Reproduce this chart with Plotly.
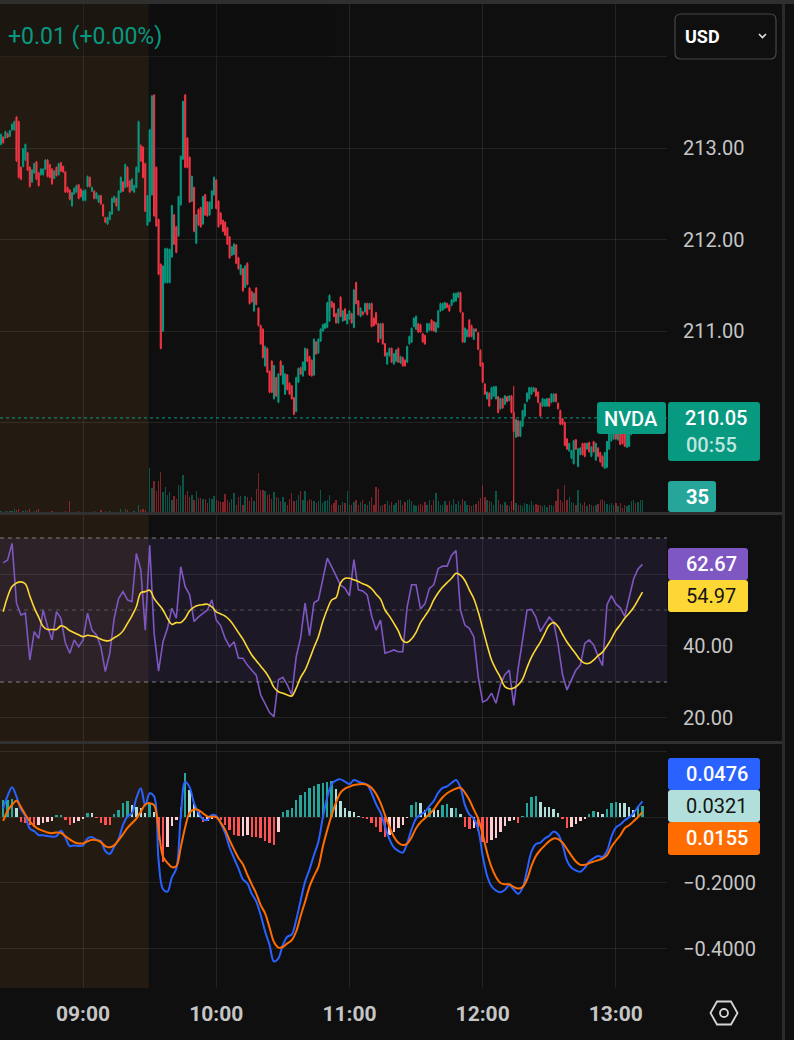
import pandas as pd
import plotly.graph_objects as go

DAY = "2025-10-20"
W, H = 794, 1040

BG = "#0f0f0f"
GRID = "rgba(255,255,255,0.085)"
UP = "#089981"
DOWN = "#f23645"
TICK = "#c6c6c6"

# 1-minute NVDA candles, 08:23 -> 13:12
open_ = [
    213.04, 213.12, 213.11, 213.16, 213.13, 213.20, 213.20, 213.34, 213.29, 212.79,
    212.80, 212.87, 212.95, 212.79, 212.63, 212.73, 212.85, 212.73, 212.71, 212.71,
    212.77, 212.87, 212.82, 212.77, 212.67, 212.79, 212.71, 212.84, 212.80, 212.74,
    212.57, 212.54, 212.37, 212.50, 212.52, 212.60, 212.55, 212.43, 212.43, 212.58,
    212.68, 212.53, 212.53, 212.45, 212.41, 212.48, 212.38, 212.24, 212.17, 212.22,
    212.28, 212.41, 212.45, 212.32, 212.52, 212.63, 212.57, 212.79, 212.64, 212.54,
    212.52, 212.57, 212.74, 213.03, 213.01, 212.83, 212.16, 212.20, 212.49, 213.58,
    212.79, 212.22, 211.73, 211.00, 211.53, 211.53, 211.53, 211.81, 212.27, 212.14,
    212.04, 212.38, 212.88, 213.58, 213.11, 212.90, 212.42, 212.57, 211.96, 212.33,
    212.35, 212.17, 212.49, 212.41, 212.27, 212.34, 212.49, 212.65, 212.42,
    212.29, 212.21, 212.19, 212.13, 212.03, 211.83, 211.84, 211.94, 211.80, 211.62,
    211.68, 211.48, 211.74, 211.47, 211.43, 211.22, 211.47, 211.25, 211.06, 211.02,
    210.62, 210.81, 210.56, 210.67, 210.26, 210.49, 210.22, 210.67, 210.42, 210.31,
    210.52, 210.43, 210.40, 210.27, 210.12, 210.44, 210.60, 210.51, 210.57, 210.80,
    210.72, 210.68, 210.52, 210.88, 210.76, 210.89, 211.00, 211.03, 211.04, 211.11,
    211.32, 211.30, 211.19, 211.09, 211.37, 211.11, 211.24, 211.08, 211.13, 211.19,
    211.04, 211.53, 211.33, 211.16, 211.21, 211.21, 211.30, 211.24, 211.30, 211.14,
    211.20, 211.08, 210.92, 211.08, 210.86, 210.64, 210.73, 210.81, 210.64, 210.67,
    210.81, 210.65, 210.71, 210.68, 210.66, 210.86, 210.88, 211.05, 211.02, 211.08,
    211.07, 210.97, 210.95, 210.99, 211.01, 211.12, 211.10, 210.99, 211.04, 211.22,
    211.23, 211.25, 211.30, 211.28, 211.28, 211.32, 211.33, 211.37, 211.42, 211.20,
    210.88, 210.94, 211.12, 211.06, 210.91, 211.02, 210.98, 210.79, 210.65, 210.42,
    210.26, 210.32, 210.26, 210.29, 210.26, 210.28, 210.15, 210.26, 210.20, 210.28,
    210.24, 210.29, 210.11, 209.84, 210.02, 209.85, 209.96, 210.07, 210.23, 210.26,
    210.31, 210.34, 210.37, 210.33, 210.21, 210.18, 210.18, 210.18, 210.26, 210.22,
    210.23, 210.31, 210.21, 210.13, 210.04, 210.00, 209.82, 209.69, 209.61, 209.55,
    209.81, 209.52, 209.65, 209.77, 209.77, 209.71, 209.78, 209.63, 209.79, 209.59,
    209.72, 209.67, 209.63, 209.50, 209.51, 209.71, 209.80, 209.82, 209.93, 209.81,
    209.91, 209.89, 209.89, 209.73, 209.74, 209.87, 209.91, 210.01, 209.95, 209.98,
    209.99,
]
high = [
    213.16, 213.13, 213.19, 213.17, 213.20, 213.27, 213.30, 213.35, 213.30, 212.80,
    213.00, 213.05, 212.96, 212.80, 212.77, 212.84, 212.86, 212.74, 212.78, 212.78,
    212.88, 212.88, 212.83, 212.78, 212.76, 212.80, 212.84, 212.85, 212.81, 212.75,
    212.58, 212.55, 212.52, 212.57, 212.60, 212.61, 212.56, 212.54, 212.55, 212.70,
    212.69, 212.58, 212.54, 212.52, 212.49, 212.49, 212.39, 212.25, 212.25, 212.31,
    212.46, 212.48, 212.46, 212.54, 212.69, 212.64, 212.83, 212.80, 212.65, 212.67,
    212.60, 212.80, 213.30, 213.04, 213.02, 212.84, 212.49, 213.21, 213.58, 213.59,
    212.80, 212.23, 211.74, 211.72, 211.91, 211.91, 211.90, 212.38, 212.28, 212.15,
    212.48, 212.92, 213.52, 213.59, 213.12, 212.91, 212.70, 212.58, 212.28, 212.34,
    212.36, 212.48, 212.50, 212.42, 212.42, 212.54, 212.69, 212.66, 212.43,
    212.30, 212.22, 212.20, 212.14, 212.04, 211.93, 211.96, 211.95, 211.81, 211.73,
    211.69, 211.72, 211.75, 211.48, 211.44, 211.42, 211.48, 211.26, 211.07, 211.03,
    210.84, 210.82, 210.57, 210.68, 210.63, 210.50, 210.54, 210.68, 210.63, 210.54,
    210.53, 210.44, 210.41, 210.28, 210.50, 210.60, 210.61, 210.67, 210.82, 210.81,
    210.73, 210.69, 210.92, 210.89, 210.92, 211.03, 211.08, 211.09, 211.32, 211.40,
    211.33, 211.31, 211.20, 211.25, 211.38, 211.23, 211.25, 211.19, 211.23, 211.20,
    211.46, 211.54, 211.34, 211.26, 211.22, 211.31, 211.31, 211.31, 211.31, 211.15,
    211.21, 211.09, 211.09, 211.09, 210.87, 210.77, 210.82, 210.82, 210.76, 210.80,
    210.82, 210.73, 210.72, 210.69, 210.84, 210.95, 211.04, 211.15, 211.17, 211.09,
    211.08, 210.98, 210.96, 211.09, 211.09, 211.13, 211.11, 211.10, 211.23, 211.31,
    211.31, 211.32, 211.31, 211.29, 211.35, 211.42, 211.42, 211.43, 211.43, 211.21,
    211.04, 211.02, 211.13, 211.07, 211.03, 211.03, 210.99, 210.80, 210.66, 210.43,
    210.34, 210.33, 210.39, 210.40, 210.40, 210.29, 210.27, 210.27, 210.30, 210.29,
    210.30, 210.30, 210.40, 210.04, 210.03, 210.02, 210.14, 210.21, 210.33, 210.39,
    210.39, 210.39, 210.38, 210.34, 210.22, 210.27, 210.26, 210.27, 210.27, 210.32,
    210.32, 210.32, 210.22, 210.14, 210.05, 210.01, 209.83, 209.78, 209.70, 209.81,
    209.82, 209.72, 209.73, 209.78, 209.78, 209.78, 209.79, 209.74, 209.80, 209.78,
    209.73, 209.68, 209.64, 209.68, 209.80, 209.92, 209.94, 209.96, 209.94, 209.96,
    209.92, 209.90, 209.90, 209.92, 209.97, 210.01, 210.03, 210.02, 210.05, 210.07,
    210.07,
]
low = [
    213.03, 213.05, 213.10, 213.11, 213.12, 213.19, 213.19, 212.85, 212.67, 212.65,
    212.79, 212.86, 212.75, 212.57, 212.62, 212.72, 212.65, 212.58, 212.70, 212.70,
    212.76, 212.68, 212.67, 212.60, 212.66, 212.69, 212.70, 212.74, 212.73, 212.51,
    212.51, 212.43, 212.36, 212.49, 212.51, 212.44, 212.46, 212.42, 212.42, 212.57,
    212.57, 212.52, 212.44, 212.44, 212.40, 212.38, 212.25, 212.18, 212.16, 212.21,
    212.27, 212.40, 212.36, 212.31, 212.51, 212.52, 212.56, 212.57, 212.51, 212.53,
    212.51, 212.56, 212.73, 212.85, 212.67, 212.30, 212.15, 212.19, 212.48, 212.25,
    212.14, 211.61, 210.80, 210.99, 211.52, 211.52, 211.52, 211.80, 211.94, 211.85,
    212.03, 212.37, 212.87, 212.78, 212.78, 212.40, 212.41, 212.08, 211.95, 212.15,
    212.13, 212.16, 212.26, 212.25, 212.26, 212.33, 212.48, 212.33, 212.13,
    212.16, 212.08, 212.04, 211.94, 211.79, 211.82, 211.83, 211.73, 211.67, 211.61,
    211.43, 211.47, 211.50, 211.29, 211.31, 211.21, 211.28, 211.05, 210.85, 210.70,
    210.61, 210.54, 210.32, 210.32, 210.25, 210.28, 210.21, 210.51, 210.41, 210.30,
    210.35, 210.30, 210.25, 210.08, 210.11, 210.43, 210.52, 210.50, 210.56, 210.66,
    210.51, 210.50, 210.51, 210.74, 210.75, 210.88, 210.99, 211.02, 211.03, 211.10,
    211.25, 211.15, 211.08, 211.08, 211.15, 211.10, 211.11, 211.07, 211.12, 211.08,
    211.03, 211.29, 211.17, 211.15, 211.17, 211.20, 211.17, 211.23, 211.04, 211.05,
    211.07, 210.87, 210.91, 210.85, 210.72, 210.63, 210.72, 210.65, 210.63, 210.66,
    210.65, 210.64, 210.61, 210.61, 210.65, 210.85, 210.87, 211.04, 211.01, 210.98,
    210.98, 210.87, 210.85, 210.98, 211.00, 211.00, 210.99, 210.98, 211.03, 211.21,
    211.22, 211.24, 211.25, 211.21, 211.27, 211.31, 211.32, 211.36, 211.20, 210.87,
    210.87, 210.93, 210.93, 210.93, 210.90, 210.99, 210.79, 210.61, 210.43, 210.30,
    210.25, 210.17, 210.25, 210.28, 210.25, 210.10, 210.14, 210.15, 210.19, 210.22,
    210.23, 210.10, 209.04, 209.83, 209.84, 209.84, 209.95, 210.06, 210.22, 210.25,
    210.30, 210.33, 210.28, 210.21, 210.06, 210.17, 210.17, 210.17, 210.17, 210.21,
    210.22, 210.22, 210.14, 209.97, 209.97, 209.74, 209.70, 209.68, 209.60, 209.54,
    209.70, 209.51, 209.64, 209.64, 209.62, 209.70, 209.67, 209.62, 209.67, 209.58,
    209.62, 209.56, 209.51, 209.49, 209.50, 209.70, 209.79, 209.81, 209.81, 209.80,
    209.75, 209.76, 209.73, 209.72, 209.73, 209.86, 209.90, 209.92, 209.94, 209.97,
    209.97,
]
close = [
    213.15, 213.06, 213.18, 213.12, 213.19, 213.26, 213.29, 212.86, 212.68, 212.66,
    212.99, 213.04, 212.76, 212.58, 212.76, 212.83, 212.66, 212.59, 212.77, 212.77,
    212.87, 212.69, 212.68, 212.61, 212.75, 212.70, 212.83, 212.75, 212.74, 212.52,
    212.52, 212.44, 212.51, 212.56, 212.59, 212.45, 212.47, 212.53, 212.54, 212.69,
    212.58, 212.57, 212.45, 212.51, 212.48, 212.39, 212.26, 212.19, 212.24, 212.30,
    212.45, 212.47, 212.37, 212.53, 212.68, 212.53, 212.82, 212.58, 212.52, 212.66,
    212.59, 212.79, 213.29, 212.86, 212.68, 212.31, 212.48, 213.20, 213.57, 212.26,
    212.15, 211.62, 210.81, 211.71, 211.90, 211.90, 211.89, 212.37, 211.95, 211.86,
    212.47, 212.91, 213.51, 212.79, 212.79, 212.41, 212.69, 212.09, 212.27, 212.16,
    212.14, 212.47, 212.27, 212.26, 212.41, 212.53, 212.68, 212.34, 212.14,
    212.17, 212.09, 212.05, 211.95, 211.80, 211.92, 211.95, 211.74, 211.68, 211.72,
    211.44, 211.71, 211.51, 211.30, 211.32, 211.41, 211.29, 211.06, 210.86, 210.71,
    210.83, 210.55, 210.33, 210.33, 210.62, 210.29, 210.53, 210.52, 210.62, 210.53,
    210.36, 210.31, 210.26, 210.09, 210.49, 210.59, 210.53, 210.66, 210.81, 210.67,
    210.52, 210.51, 210.91, 210.75, 210.91, 211.02, 211.07, 211.08, 211.31, 211.39,
    211.26, 211.16, 211.09, 211.24, 211.16, 211.22, 211.12, 211.18, 211.22, 211.09,
    211.45, 211.30, 211.18, 211.25, 211.18, 211.30, 211.18, 211.30, 211.05, 211.06,
    211.08, 210.88, 211.08, 210.86, 210.73, 210.76, 210.81, 210.66, 210.75, 210.79,
    210.66, 210.72, 210.62, 210.62, 210.83, 210.94, 211.03, 211.14, 211.16, 210.99,
    210.99, 210.88, 210.86, 211.08, 211.08, 211.01, 211.00, 211.09, 211.22, 211.30,
    211.30, 211.31, 211.26, 211.22, 211.34, 211.41, 211.41, 211.42, 211.21, 210.88,
    211.03, 211.01, 210.94, 210.94, 211.02, 211.00, 210.80, 210.62, 210.44, 210.31,
    210.33, 210.18, 210.38, 210.39, 210.39, 210.11, 210.26, 210.16, 210.29, 210.23,
    210.29, 210.11, 209.90, 210.03, 209.85, 210.01, 210.13, 210.20, 210.32, 210.38,
    210.38, 210.38, 210.29, 210.22, 210.07, 210.26, 210.25, 210.26, 210.18, 210.31,
    210.31, 210.23, 210.15, 209.98, 209.98, 209.75, 209.71, 209.77, 209.69, 209.80,
    209.71, 209.71, 209.72, 209.65, 209.63, 209.77, 209.68, 209.73, 209.68, 209.77,
    209.63, 209.57, 209.52, 209.67, 209.79, 209.91, 209.93, 209.95, 209.82, 209.95,
    209.76, 209.77, 209.74, 209.91, 209.96, 210.00, 210.02, 209.93, 210.04, 210.06,
    210.05,
]
# volume per minute, thousands of shares
volume = [
    5, 4, 5, 6, 5, 5, 11, 7, 10, 4, 5, 7, 5, 10, 4, 5, 7, 10, 4, 4,
    3, 4, 3, 5, 3, 4, 4, 4, 4, 5, 3, 32, 4, 3, 4, 5, 3, 4, 3, 4,
    3, 3, 5, 3, 4, 7, 3, 5, 3, 5, 3, 4, 3, 4, 11, 3, 10, 7, 4, 4,
    5, 4, 22, 8, 11, 8, 4,
    122, 68, 86, 59, 86, 111, 57, 70, 49, 57, 35, 46, 38, 76, 73, 103, 49, 59, 43, 49,
    35, 59, 41, 41, 38, 38, 27, 41, 38, 46, 35, 32, 30, 30, 51, 35, 30, 38, 54, 22,
    43, 46, 22, 46, 43, 32, 43, 32, 65, 108, 62, 62, 59, 49, 51, 38, 57, 43, 41, 32,
    43, 30, 22, 38, 54, 32, 35, 49, 59, 35, 59, 32, 38, 35, 32, 27, 32, 62, 27, 32,
    35, 49, 22, 27, 35,
    22, 22, 30, 27, 59, 22, 22, 30, 35, 22, 30, 35, 24, 22, 32, 43, 22, 70, 65, 19,
    22, 24, 32, 22, 30, 22, 27, 35, 35, 22, 30, 35, 38, 32, 22, 19, 22, 24, 22, 30,
    22, 35, 22, 35, 54, 32, 22, 22, 32, 22, 32, 22, 38, 24, 32, 22, 38, 32, 22, 22,
    19, 22, 24, 32, 41, 76, 43, 35, 32, 30, 22, 59, 35, 24, 22, 30, 22, 19, 32, 35,
    27, 22, 22, 19, 27, 24, 22, 32, 22, 24, 22, 22, 19, 22, 16, 22, 22, 19, 32, 65,
    35, 30, 76, 35, 43, 30, 27, 22, 62, 27, 22, 30, 19, 24, 22, 19, 22, 24, 35, 38,
    32, 24, 22, 27, 22, 27, 19, 27, 14, 22, 19, 22, 32, 35, 27, 30, 35, 35,
]

# indicators, one reading every 2 minutes from 08:24
rsi = [
    63.1, 63.9, 68.5, 51.9, 48.6, 49.1, 36.1, 44.0, 42.1, 50.0,
    45.4, 41.7, 49.5, 47.7, 40.9, 38.0, 41.7, 39.8, 41.7, 49.1,
    44.4, 43.1, 39.8, 32.9, 37.9, 47.7, 53.2, 55.1, 52.8, 52.3,
    65.7, 61.1, 44.4, 68.0, 43.5, 33.0, 41.2, 44.9, 50.5, 47.7,
    62.0, 56.5, 54.2, 46.8, 48.1, 49.1, 50.0, 52.8, 47.2, 45.6,
    42.1, 39.8, 41.2, 36.6, 36.6, 34.7, 33.3, 31.9, 26.4, 24.1,
    21.5, 20.4, 30.6, 31.3, 29.2, 26.4, 37.0, 42.3, 51.9, 42.9,
    52.0, 52.8, 58.3, 64.4, 62.0, 59.3, 56.9, 56.0, 53.9, 64.0,
    55.6, 55.3, 54.2, 48.3, 44.4, 47.2, 38.0, 38.4, 38.9, 38.4,
    38.4, 50.9, 57.0, 57.0, 50.3, 51.7, 56.0, 57.0, 61.5, 62.2,
    62.2, 65.2, 66.5, 50.0, 45.8, 44.9, 42.6, 31.5, 24.4, 25.0,
    26.9, 24.1, 29.2, 32.0, 33.3, 23.5, 33.8, 41.7, 50.0, 50.2,
    48.0, 44.0, 46.0, 48.0, 46.6, 40.3, 32.0, 27.8, 30.6, 33.3,
    34.7, 40.7, 41.7, 40.3, 37.2, 34.5, 51.4, 54.0, 51.7, 50.6,
    48.2, 53.2, 58.6, 61.4, 62.67,
]
rsi_ma = [
    49.5, 53.7, 56.5, 57.5, 57.8, 57.2, 53.9, 50.6, 48.0, 45.4,
    44.6, 44.6, 44.6, 45.6, 45.2, 44.3, 43.7, 43.1, 42.6, 43.0,
    42.8, 42.5, 41.9, 41.5, 41.5, 42.3, 43.0, 44.2, 46.3, 48.4,
    50.9, 54.8, 55.1, 55.5, 53.2, 51.6, 50.0, 47.7, 46.0, 46.5,
    46.5, 47.7, 49.8, 50.8, 51.3, 51.5, 51.6, 50.9, 49.5, 48.9,
    48.3, 47.2, 45.6, 43.7, 41.9, 39.6, 37.5, 35.9, 34.4, 32.9,
    31.0, 28.5, 27.3, 26.9, 26.4, 26.1, 28.3, 31.3, 33.3, 36.3,
    39.6, 42.6, 46.8, 50.2, 52.8, 53.5, 57.5, 58.8, 58.8, 58.4,
    57.9, 57.3, 56.8, 55.9, 54.4, 53.0, 50.0, 48.3, 46.3, 44.2,
    41.5, 41.0, 42.0, 43.8, 46.5, 48.3, 50.2, 52.8, 54.8, 56.4,
    57.6, 58.8, 60.2, 59.7, 58.2, 55.6, 53.2, 49.5, 44.9, 40.3,
    36.1, 33.5, 31.3, 28.7, 28.1, 28.3, 29.2, 30.8, 34.0, 36.9,
    39.1, 41.1, 43.5, 45.8, 46.5, 45.4, 43.2, 41.1, 39.4, 37.8,
    36.1, 35.2, 35.2, 36.1, 37.3, 38.3, 40.0, 42.0, 44.3, 45.9,
    47.7, 49.1, 50.7, 52.8, 54.97,
]
macd = [
    0.026, 0.064, 0.090, 0.062, 0.023, 0.003, -0.035, -0.043, -0.055, -0.055,
    -0.058, -0.060, -0.058, -0.042, -0.062, -0.088, -0.086, -0.088, -0.086, -0.065,
    -0.061, -0.069, -0.073, -0.103, -0.112, -0.090, -0.067, -0.024, 0.001, 0.011,
    0.057, 0.087, 0.035, 0.072, 0.062, -0.130, -0.219, -0.226, -0.183, -0.156,
    0.001, 0.107, 0.090, 0.041, 0.013, -0.007, -0.009, 0.006, 0.003, -0.019,
    -0.049, -0.092, -0.125, -0.156, -0.189, -0.201, -0.233, -0.256, -0.297, -0.347,
    -0.388, -0.438, -0.428, -0.388, -0.363, -0.356, -0.312, -0.253, -0.196, -0.159,
    -0.115, -0.075, -0.002, 0.060, 0.100, 0.111, 0.114, 0.107, 0.100, 0.112,
    0.107, 0.103, 0.098, 0.072, 0.039, 0.013, -0.029, -0.067, -0.092, -0.103,
    -0.108, -0.079, -0.037, -0.005, 0.007, 0.016, 0.033, 0.049, 0.074, 0.088,
    0.093, 0.103, 0.112, 0.089, 0.037, 0.008, -0.005, -0.037, -0.117, -0.178,
    -0.210, -0.223, -0.228, -0.221, -0.207, -0.220, -0.233, -0.215, -0.161, -0.105,
    -0.082, -0.078, -0.065, -0.057, -0.044, -0.053, -0.084, -0.132, -0.154, -0.162,
    -0.166, -0.154, -0.135, -0.125, -0.118, -0.121, -0.103, -0.060, -0.032, -0.023,
    -0.010, -0.001, 0.012, 0.031, 0.0476,
]
signal = [
    -0.012, 0.019, 0.037, 0.049, 0.030, 0.007, -0.013, -0.027, -0.037, -0.042,
    -0.047, -0.049, -0.047, -0.048, -0.058, -0.068, -0.076, -0.080, -0.080, -0.074,
    -0.069, -0.070, -0.076, -0.088, -0.092, -0.086, -0.070, -0.052, -0.033, -0.019,
    -0.005, 0.016, 0.038, 0.042, 0.036, -0.039, -0.120, -0.139, -0.152, -0.149,
    -0.092, -0.031, 0.013, 0.023, 0.021, 0.011, 0.002, 0.001, 0.000, -0.017,
    -0.039, -0.070, -0.098, -0.124, -0.143, -0.175, -0.204, -0.232, -0.267, -0.292,
    -0.335, -0.379, -0.396, -0.394, -0.383, -0.373, -0.347, -0.300, -0.257, -0.211,
    -0.179, -0.151, -0.090, -0.039, 0.006, 0.045, 0.074, 0.086, 0.092, 0.097,
    0.099, 0.100, 0.097, 0.088, 0.070, 0.043, 0.006, -0.029, -0.060, -0.078,
    -0.085, -0.081, -0.061, -0.034, -0.016, -0.004, 0.009, 0.023, 0.043, 0.060,
    0.072, 0.080, 0.086, 0.089, 0.074, 0.052, 0.023, -0.005, -0.052, -0.108,
    -0.152, -0.182, -0.200, -0.204, -0.204, -0.212, -0.217, -0.212, -0.189, -0.148,
    -0.118, -0.100, -0.086, -0.073, -0.065, -0.067, -0.078, -0.097, -0.117, -0.135,
    -0.145, -0.145, -0.140, -0.135, -0.131, -0.126, -0.116, -0.091, -0.072, -0.056,
    -0.034, -0.025, -0.013, 0.000, 0.0155,
]
hist = [
    0.052, 0.052, 0.056, 0.026, -0.014, -0.017, -0.024, -0.031, -0.025, -0.019,
    -0.014, -0.011, 0.006, 0.007, -0.009, -0.024, -0.019, -0.011, -0.004, 0.013,
    0.011, -0.001, -0.017, -0.024, -0.025, 0.009, 0.021, 0.041, 0.049, 0.036,
    0.031, 0.026, 0.013, 0.041, 0.016, -0.070, -0.135, -0.090, -0.027, -0.009,
    0.031, 0.132, 0.082, 0.039, 0.016, -0.014, -0.011, -0.004, -0.001, -0.009,
    -0.024, -0.039, -0.055, -0.058, -0.058, -0.055, -0.060, -0.062, -0.065, -0.072,
    -0.080, -0.085, -0.044, 0.016, 0.021, 0.026, 0.052, 0.067, 0.077, 0.087,
    0.094, 0.100, 0.104, 0.107, 0.110, 0.085, 0.050, 0.026, 0.018, 0.015,
    0.003, -0.002, -0.007, -0.019, -0.029, -0.045, -0.062, -0.055, -0.044, -0.034,
    -0.024, -0.002, 0.035, 0.046, 0.041, 0.021, 0.026, 0.023, 0.021, 0.037,
    0.039, 0.026, 0.026, 0.009, -0.029, -0.037, -0.034, -0.041, -0.075, -0.080,
    -0.070, -0.063, -0.044, -0.027, -0.011, -0.009, -0.017, 0.003, 0.041, 0.060,
    0.064, 0.046, 0.031, 0.029, 0.023, 0.011, -0.007, -0.034, -0.029, -0.021,
    -0.011, -0.005, 0.009, 0.017, 0.016, 0.009, 0.023, 0.041, 0.045, 0.043,
    0.041, 0.029, 0.021, 0.029, 0.0321,
]

time_ticks = ["09:00", "10:00", "11:00", "12:00", "13:00"]
price_ticks = [210, 211, 212, 213, 214]
rsi_ticks = [20, 40, 60]
macd_ticks = [-0.4, -0.2, 0, 0.2]

candle_time = pd.date_range(f"{DAY} 08:23", periods=len(close), freq="min")
line_time = pd.date_range(f"{DAY} 08:24", periods=len(rsi), freq="2min")


def fx(x):
    return x / W


def fy(y):
    return 1 - y / H


def box_path(x0, y0, x1, y1, r=3):
    return (
        f"M{fx(x0 + r)},{fy(y0)} L{fx(x1 - r)},{fy(y0)} "
        f"Q{fx(x1)},{fy(y0)} {fx(x1)},{fy(y0 + r)} L{fx(x1)},{fy(y1 - r)} "
        f"Q{fx(x1)},{fy(y1)} {fx(x1 - r)},{fy(y1)} L{fx(x0 + r)},{fy(y1)} "
        f"Q{fx(x0)},{fy(y1)} {fx(x0)},{fy(y1 - r)} L{fx(x0)},{fy(y0 + r)} "
        f"Q{fx(x0)},{fy(y0)} {fx(x0 + r)},{fy(y0)} Z"
    )


vol_colors = ["rgba(8,153,129,0.5)" if c >= o else "rgba(242,54,69,0.5)"
              for o, c in zip(open_, close)]

hist_colors = []
for i, v in enumerate(hist):
    prev = hist[i - 1] if i else v
    if v >= 0:
        hist_colors.append("#26a69a" if v >= prev else "#b2dfdb")
    else:
        hist_colors.append("#ff5252" if v < prev else "#ffcdd2")

fig = go.Figure()

fig.add_trace(go.Bar(x=candle_time, y=volume, marker=dict(color=vol_colors, line_width=0),
                     width=36000, xaxis="x", yaxis="y", hoverinfo="skip"))
fig.add_trace(go.Candlestick(
    x=candle_time, open=open_, high=high, low=low, close=close,
    xaxis="x", yaxis="y2", whiskerwidth=0, hoverinfo="skip",
    increasing=dict(line=dict(color=UP, width=1), fillcolor=UP),
    decreasing=dict(line=dict(color=DOWN, width=1), fillcolor=DOWN),
))
fig.add_trace(go.Scatter(x=line_time, y=rsi, mode="lines", xaxis="x", yaxis="y3",
                         line=dict(color="#7e57c2", width=1.6), hoverinfo="skip"))
fig.add_trace(go.Scatter(x=line_time, y=rsi_ma, mode="lines", xaxis="x", yaxis="y3",
                         line=dict(color="#fdd835", width=1.6, shape="spline"), hoverinfo="skip"))
fig.add_trace(go.Bar(x=line_time, y=hist, marker=dict(color=hist_colors, line_width=0),
                     width=66000, xaxis="x", yaxis="y4", hoverinfo="skip"))
fig.add_trace(go.Scatter(x=line_time, y=macd, mode="lines", xaxis="x", yaxis="y4",
                         line=dict(color="#2962ff", width=2, shape="spline"), hoverinfo="skip"))
fig.add_trace(go.Scatter(x=line_time, y=signal, mode="lines", xaxis="x", yaxis="y4",
                         line=dict(color="#ff6d00", width=2, shape="spline"), hoverinfo="skip"))

yax = dict(side="right", anchor="x", showgrid=True, gridcolor=GRID, gridwidth=1,
           zeroline=False, showline=False, ticks="", ticklabelstandoff=15,
           tickfont=dict(size=20, color=TICK))

shapes = [
    # premarket session
    dict(type="rect", xref="x", yref="paper", x0=f"{DAY} 08:00", x1=f"{DAY} 09:29:30",
         y0=fy(988), y1=1, fillcolor="rgba(255,160,60,0.085)", line_width=0, layer="below"),
    # RSI band
    dict(type="rect", xref="paper", yref="y3", x0=0, x1=fx(667), y0=30, y1=70,
         fillcolor="rgba(126,87,194,0.12)", line_width=0, layer="below"),
    dict(type="line", xref="paper", yref="y3", x0=0, x1=fx(667), y0=70, y1=70,
         line=dict(color="rgba(160,160,160,0.75)", width=1, dash="4px,4px"), layer="below"),
    dict(type="line", xref="paper", yref="y3", x0=0, x1=fx(667), y0=50, y1=50,
         line=dict(color="rgba(160,160,160,0.4)", width=1, dash="4px,4px"), layer="below"),
    dict(type="line", xref="paper", yref="y3", x0=0, x1=fx(667), y0=30, y1=30,
         line=dict(color="rgba(160,160,160,0.75)", width=1, dash="4px,4px"), layer="below"),
    # last price line
    dict(type="line", xref="paper", yref="y2", x0=0, x1=fx(667), y0=210.05, y1=210.05,
         line=dict(color=UP, width=1, dash="dot"), layer="below"),
    # pane separators, header, right edge
    dict(type="line", xref="paper", yref="paper", x0=0, x1=fx(783), y0=fy(513.5), y1=fy(513.5),
         line=dict(color="#303030", width=3)),
    dict(type="line", xref="paper", yref="paper", x0=0, x1=fx(783), y0=fy(742.5), y1=fy(742.5),
         line=dict(color="#303030", width=3)),
    dict(type="rect", xref="paper", yref="paper", x0=0, x1=1, y0=fy(4), y1=1,
         fillcolor="#2f2f2f", line_width=0),
    dict(type="rect", xref="paper", yref="paper", x0=0, x1=fx(330), y0=fy(57), y1=fy(4),
         fillcolor="rgba(15,15,15,0.35)", line_width=0),
    dict(type="line", xref="paper", yref="paper", x0=fx(783.5), x1=fx(783.5), y0=0, y1=fy(4),
         line=dict(color="#2a2a2a", width=3)),
    # USD selector
    dict(type="path", xref="paper", yref="paper", path=box_path(675, 14, 776, 59, 6),
         fillcolor=BG, line=dict(color="#474747", width=1.2)),
    dict(type="path", xref="paper", yref="paper",
         path=f"M{fx(759)},{fy(34)} L{fx(762.5)},{fy(37.5)} L{fx(766)},{fy(34)}",
         line=dict(color="#e0e0e0", width=1.6)),
    # value labels
    dict(type="path", xref="paper", yref="paper", path=box_path(597, 402, 666, 434),
         fillcolor=UP, line_width=0),
    dict(type="path", xref="paper", yref="paper", path=box_path(668, 402, 760, 461),
         fillcolor=UP, line_width=0),
    dict(type="path", xref="paper", yref="paper", path=box_path(668, 481, 716, 512),
         fillcolor="#26a69a", line_width=0),
    dict(type="path", xref="paper", yref="paper", path=box_path(668, 548, 748, 580),
         fillcolor="#7e57c2", line_width=0),
    dict(type="path", xref="paper", yref="paper", path=box_path(668, 580, 748, 612),
         fillcolor="#fdd835", line_width=0),
    dict(type="path", xref="paper", yref="paper", path=box_path(668, 758, 760, 790),
         fillcolor="#2962ff", line_width=0),
    dict(type="path", xref="paper", yref="paper", path=box_path(668, 790, 760, 822),
         fillcolor="#b2dfdb", line_width=0),
    dict(type="path", xref="paper", yref="paper", path=box_path(668, 822, 760, 855),
         fillcolor="#ff6d00", line_width=0),
    # settings icon
    dict(type="path", xref="paper", yref="paper",
         path=(f"M{fx(710.5)},{fy(1013)} L{fx(717)},{fy(1001.5)} L{fx(731)},{fy(1001.5)} "
               f"L{fx(737.5)},{fy(1013)} L{fx(731)},{fy(1024.5)} L{fx(717)},{fy(1024.5)} Z"),
         line=dict(color="#d6d6d6", width=1.8)),
    dict(type="circle", xref="paper", yref="paper", x0=fx(720), x1=fx(728), y0=fy(1017), y1=fy(1009),
         line=dict(color="#d6d6d6", width=1.8)),
]


def label(text, x, y, color="#ffffff", size=20, anchor="left", weight="normal"):
    return dict(text=text, x=fx(x), y=fy(y), xref="paper", yref="paper", showarrow=False,
                xanchor=anchor, yanchor="middle", font=dict(size=size, color=color, weight=weight))


annotations = [
    label("+0.01 (+0.00%)", 6, 37, color=UP, size=23),
    label("USD", 683, 37, size=18, weight="bold"),
    label("NVDA", 631, 419, size=20, anchor="center", weight=500),
    label("210.05", 683, 418, weight=500),
    label("00:55", 684, 445, color="rgba(255,255,255,0.75)", weight=500),
    label("35", 684, 497, weight="bold"),
    label("62.67", 684, 564, weight=500),
    label("54.97", 684, 596, color="#131313"),
    label("0.0476", 684, 774, weight=500),
    label("0.0321", 684, 806, color="#131313"),
    label("0.0155", 684, 838, weight=500),
]

fig.update_layout(
    width=W, height=H, margin=dict(l=0, r=0, t=0, b=0),
    paper_bgcolor=BG, plot_bgcolor="rgba(0,0,0,0)",
    font=dict(family="Roboto, sans-serif", color=TICK),
    showlegend=False, hovermode=False, bargap=0,
    xaxis=dict(
        domain=[0, fx(667)], anchor="y4", type="date",
        range=[f"{DAY} 08:22:34", f"{DAY} 13:23:03"],
        showgrid=True, gridcolor=GRID, zeroline=False, showline=False, ticks="",
        tickvals=[f"{DAY} {t}" for t in time_ticks], ticktext=time_ticks,
        tickfont=dict(size=21, color=TICK, weight="bold"), ticklabelstandoff=11,
        rangeslider=dict(visible=False),
    ),
    yaxis=dict(domain=[fy(513), 1], anchor="x", range=[0, 1386], visible=False),
    yaxis2=dict(yax, overlaying="y", range=[209.01, 214.62], tickvals=price_ticks,
                ticktext=["", "211.00", "212.00", "213.00", ""]),
    yaxis3=dict(yax, domain=[fy(742), fy(515)], range=[13.33, 76.39], tickvals=rsi_ticks,
                ticktext=["20.00", "40.00", ""]),
    yaxis4=dict(yax, domain=[fy(988), fy(744)], range=[-0.5182, 0.2212], tickvals=macd_ticks,
                ticktext=["\u22120.4000", "\u22120.2000", "", ""]),
    shapes=shapes,
    annotations=annotations,
)

fig.write_html("out.html", config={"displayModeBar": False},
               post_script="document.body.style.margin='0';")
